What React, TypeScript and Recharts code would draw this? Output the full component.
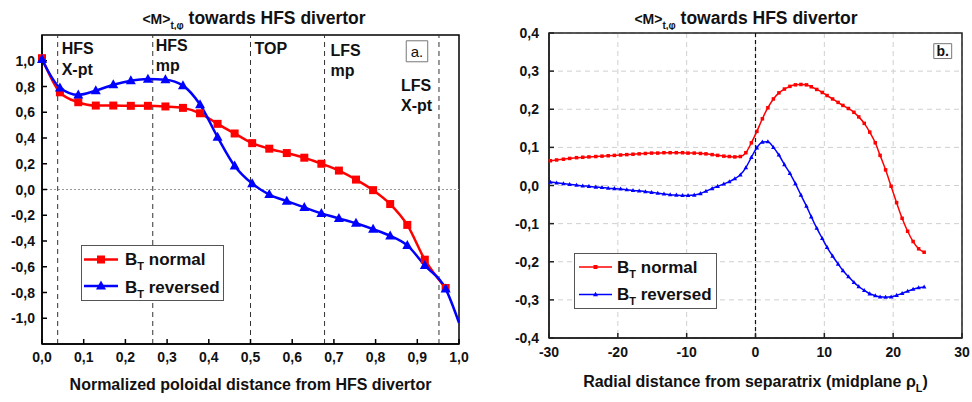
import React from 'react';
import { LineChart, Line, XAxis, YAxis, CartesianGrid, ReferenceLine, ReferenceArea, Legend } from 'recharts';

const FONT = 'Arial, "Liberation Sans", Helvetica, sans-serif';
const RED = '#ff0000';
const BLUE = '#0000ff';

// panel a. : normalized poloidal distance from HFS divertor
const polDist = [0, 0.043, 0.087, 0.129, 0.171, 0.213, 0.254, 0.296, 0.338, 0.379, 0.421, 0.462, 0.504,
  0.545, 0.587, 0.629, 0.67, 0.712, 0.753, 0.794, 0.835, 0.876, 0.918, 0.968, 1.0];
const polNormal = [1.02, 0.755, 0.678, 0.652, 0.652, 0.65, 0.65, 0.645, 0.634, 0.592, 0.51, 0.435, 0.36,
  0.317, 0.283, 0.247, 0.2, 0.147, 0.077, -0.005, -0.113, -0.275, -0.545, -0.765];
const polReversed = [1.01, 0.79, 0.735, 0.768, 0.814, 0.845, 0.858, 0.853, 0.807, 0.66, 0.407, 0.183, 0.046,
  -0.039, -0.09, -0.139, -0.185, -0.224, -0.262, -0.308, -0.36, -0.434, -0.59, -0.772, -1.035];
const polTicksX = [0, 0.1, 0.2, 0.3, 0.4, 0.5, 0.6, 0.7, 0.8, 0.9, 1.0];
const polTicksY = [-1.0, -0.8, -0.6, -0.4, -0.2, 0, 0.2, 0.4, 0.6, 0.8, 1.0];

// positions of X-points, midplanes and top
const regionX = [0.0376, 0.2656, 0.5, 0.6776, 0.952];
const regionNames = [['HFS', 'X-pt'], ['HFS', 'mp'], ['TOP'], ['LFS', 'mp'], ['LFS', 'X-pt']];

// panel b. : radial distance from separatrix
const rho = [-29.8, -28.9, -27.9, -27.0, -26.0, -25.1, -24.2, -23.2, -22.3, -21.4,
  -20.5, -19.6, -18.7, -17.8, -16.9, -16.0, -15.1, -14.2, -13.3, -12.4,
  -11.5, -10.6, -9.8, -8.9, -8.0, -7.2, -6.3, -5.5, -4.6, -3.8,
  -3.0, -2.2, -1.4, -0.6, 0.2, 1.0, 1.8, 2.6, 3.4, 4.2,
  5.0, 5.8, 6.6, 7.4, 8.1, 8.9, 9.7, 10.4, 11.2, 12.0,
  12.7, 13.5, 14.3, 15.0, 15.8, 16.6, 17.4, 18.1, 18.9, 19.7,
  20.5, 21.3, 22.1, 22.9, 23.7, 24.5];
const rhoNormal = [0.065, 0.067, 0.069, 0.071, 0.073, 0.074, 0.075, 0.076, 0.077, 0.078,
  0.079, 0.080, 0.081, 0.082, 0.083, 0.084, 0.085, 0.085, 0.086, 0.086,
  0.086, 0.086, 0.085, 0.085, 0.084, 0.083, 0.081, 0.079, 0.077, 0.076,
  0.075, 0.076, 0.086, 0.112, 0.142, 0.175, 0.204, 0.227, 0.243, 0.253,
  0.260, 0.264, 0.265, 0.264, 0.259, 0.252, 0.244, 0.236, 0.227, 0.218,
  0.210, 0.202, 0.192, 0.180, 0.163, 0.140, 0.112, 0.079, 0.041, -0.002,
  -0.045, -0.086, -0.120, -0.147, -0.166, -0.175];
const rhoReversed = [0.009, 0.007, 0.005, 0.003, 0.001, -0.001, -0.002, -0.004, -0.005, -0.007,
  -0.008, -0.009, -0.011, -0.013, -0.014, -0.016, -0.018, -0.020, -0.022, -0.024,
  -0.025, -0.026, -0.026, -0.025, -0.021, -0.015, -0.008, -0.002, 0.004, 0.010,
  0.018, 0.028, 0.047, 0.074, 0.099, 0.114, 0.115, 0.100, 0.080, 0.055,
  0.032, 0.005, -0.025, -0.054, -0.082, -0.112, -0.139, -0.162, -0.185, -0.206,
  -0.223, -0.239, -0.254, -0.265, -0.275, -0.284, -0.289, -0.292, -0.293, -0.292,
  -0.288, -0.283, -0.277, -0.272, -0.268, -0.266];
const rhoTicksX = [-30, -20, -10, 0, 10, 20, 30];
const rhoTicksY = [-0.4, -0.3, -0.2, -0.1, 0, 0.1, 0.2, 0.3, 0.4];

const polData = polDist.map((x, i) => ({ x, normal: polNormal[i], reversed: polReversed[i] }));
const rhoData = rho.map((x, i) => ({ x, normal: rhoNormal[i], reversed: rhoReversed[i] }));

const comma = (v: number) => v.toFixed(1).replace('.', ',');
const plain = (v: number) => String(v);

const Tick = (p: any) => {
  const { x, y, payload, textAnchor, verticalAnchor, fmt } = p;
  return (
    <text x={x} y={y} dy={verticalAnchor === 'start' ? '0.72em' : '0.36em'} textAnchor={textAnchor}
      fontFamily={FONT} fontSize={14} fontWeight="bold" fill="#111">
      {fmt(payload.value)}
    </text>
  );
};

const Square = (p: any) => {
  const { cx, cy, s, c, skip, payload } = p;
  if (cx == null || cy == null) return null;
  if (skip != null && payload && payload.x === skip) return null;
  return <rect x={cx - s / 2} y={cy - s / 2} width={s} height={s} fill={c} />;
};

const Triangle = (p: any) => {
  const { cx, cy, s, c, skip, payload } = p;
  if (cx == null || cy == null) return null;
  if (skip != null && payload && payload.x === skip) return null;
  const h = s * 0.9;
  return <polygon points={`${cx},${cy - h * 0.6} ${cx - s / 2},${cy + h * 0.4} ${cx + s / 2},${cy + h * 0.4}`} fill={c} />;
};

const RegionLabel = (p: any) => {
  const { viewBox, lines, dx, dys } = p;
  return (
    <text fontFamily={FONT} fontSize={16} fontWeight="bold" fill="#111">
      {lines.map((t: string, i: number) => (
        <tspan key={i} x={viewBox.x + dx} y={viewBox.y + dys[i]}>{t}</tspan>
      ))}
    </text>
  );
};
const regionDx = [4, 3, 4, 6, -38];
const regionDy = [[19, 40], [16, 36], [19], [21, 41], [56, 76]];

const AxisTitle = (p: any) => {
  const { viewBox, dy, text, sub, tail } = p;
  return (
    <text x={viewBox.x + viewBox.width / 2} y={viewBox.y + dy} textAnchor="middle"
      fontFamily={FONT} fontSize={16} fontWeight="bold" fill="#111">
      {text}
      {sub ? <tspan dy={5} fontSize={11}>{sub}</tspan> : null}
      {sub ? <tspan dy={-5}>{tail}</tspan> : null}
    </text>
  );
};

const Title = ({ cx }: { cx: number }) => (
  <text x={cx} y={24} textAnchor="middle" fontFamily={FONT} fontWeight="bold" fill="#111">
    <tspan fontSize={14}>{'<M>'}</tspan>
    <tspan fontSize={10} dy={5}>t,φ</tspan>
    <tspan fontSize={17.5} dy={-5}> towards HFS divertor</tspan>
  </text>
);

const LegendBox = (p: any) => {
  const { w, h, x0, x1, tx, rows, lw, sq, tri } = p;
  const mid = (x0 + x1) / 2;
  return (
    <svg width={w} height={h} style={{ display: 'block' }}>
      <rect x={0.5} y={0.5} width={w - 1} height={h - 1} fill="#fff" stroke="#555" strokeWidth={1} />
      {rows.map((r: any, i: number) => (
        <g key={i}>
          <line x1={x0} x2={x1} y1={r.ly} y2={r.ly} stroke={r.color} strokeWidth={lw} />
          {r.shape === 'square'
            ? <Square cx={mid} cy={r.ly} s={sq} c={r.color} />
            : <Triangle cx={mid} cy={r.ly} s={tri} c={r.color} />}
          <text x={tx} y={r.ty} fontFamily={FONT} fontSize={17} fontWeight="bold" fill="#111">
            B<tspan dy={5} fontSize={11}>T</tspan><tspan dy={-5}> {r.name}</tspan>
          </text>
        </g>
      ))}
    </svg>
  );
};

export default function App() {
  return (
    <div style={{ position: 'absolute', left: 0, top: 0, width: 972, height: 402, background: '#fff' }}>
      <svg width={972} height={30} style={{ position: 'absolute', left: 0, top: 0 }}>
        <Title cx={254} />
        <Title cx={746} />
      </svg>

      <div style={{ position: 'absolute', left: 0, top: 0 }}>
        <LineChart width={480} height={402} data={polData} margin={{ top: 35, right: 21, bottom: 8, left: 0 }}>
          <XAxis dataKey="x" type="number" domain={[0, 1]} ticks={polTicksX}
            height={50} tickSize={-5} tickMargin={13} tick={<Tick fmt={comma} />}
            axisLine={{ stroke: '#000', strokeWidth: 1.5 }} tickLine={{ stroke: '#000', strokeWidth: 1.5 }}
            label={<AxisTitle dy={46} text="Normalized poloidal distance from HFS divertor" />} />
          <YAxis type="number" domain={[-1.2, 1.2]} ticks={polTicksY}
            width={42} tickSize={-5} tickMargin={12} tick={<Tick fmt={comma} />}
            axisLine={{ stroke: '#000', strokeWidth: 1.5 }} tickLine={{ stroke: '#000', strokeWidth: 1.5 }} />
          <ReferenceArea x1={0} x2={1} y1={-1.2} y2={1.2} fill="none" stroke="#000" strokeWidth={1.5} />
          <ReferenceLine y={0} stroke="#999" strokeDasharray="2 2" strokeWidth={1} />
          {regionX.map((x, i) => (
            <ReferenceLine key={i} x={x} stroke="#333" strokeDasharray="5 4" strokeWidth={1}
              label={<RegionLabel lines={regionNames[i]} dx={regionDx[i]} dys={regionDy[i]} />} />
          ))}
          <ReferenceArea x1={0.8735} x2={0.925} y1={0.992} y2={1.155} fill="#fff" fillOpacity={1}
            stroke="#777" strokeWidth={1}
            label={{ value: 'a.', position: 'center', fontSize: 15, fill: '#111', fontFamily: FONT }} />
          <Line type="monotone" dataKey="normal" stroke={RED} strokeWidth={2.5}
            dot={<Square s={8} c={RED} />} activeDot={false} isAnimationActive={false} />
          <Line type="monotone" dataKey="reversed" stroke={BLUE} strokeWidth={2.5}
            dot={<Triangle s={10} c={BLUE} skip={1.0} />} activeDot={false} isAnimationActive={false} />
          <Legend layout="vertical" align="center" verticalAlign="middle"
            wrapperStyle={{ left: 81, top: 245, width: 143, height: 56 }}
            content={() => (
              <LegendBox w={143} h={56} x0={3} x1={37} tx={44} lw={2.5} sq={8} tri={10}
                rows={[
                  { name: 'normal', color: RED, shape: 'square', ly: 14.5, ty: 20 },
                  { name: 'reversed', color: BLUE, shape: 'tri', ly: 41, ty: 47.5 },
                ]} />
            )} />
        </LineChart>
      </div>

      <div style={{ position: 'absolute', left: 480, top: 0 }}>
        <LineChart width={492} height={402} data={rhoData} margin={{ top: 33, right: 10, bottom: 8, left: 0 }}>
          <CartesianGrid stroke="#cfcfcf" strokeDasharray="5 4" />
          <XAxis dataKey="x" type="number" domain={[-30, 30]} ticks={rhoTicksX}
            height={56} tickSize={-5} tickMargin={14} tick={<Tick fmt={plain} />}
            axisLine={{ stroke: '#222', strokeWidth: 1.5 }} tickLine={{ stroke: '#222', strokeWidth: 1.5 }}
            label={<AxisTitle dy={48.5} text="Radial distance from separatrix (midplane ρ" sub="L" tail=")" />} />
          <YAxis type="number" domain={[-0.4, 0.4]} ticks={rhoTicksY}
            width={69} tickSize={-5} tickMargin={15} tick={<Tick fmt={comma} />}
            axisLine={{ stroke: '#222', strokeWidth: 1.5 }} tickLine={{ stroke: '#222', strokeWidth: 1.5 }} />
          <ReferenceArea x1={-30} x2={30} y1={-0.4} y2={0.4} fill="none" stroke="#222" strokeWidth={1.5} />
          <ReferenceLine x={0} stroke="#111" strokeDasharray="4 3" strokeWidth={1.2} />
          <ReferenceArea x1={25.9} x2={28.5} y1={0.333} y2={0.372} fill="#fff" fillOpacity={1}
            stroke="#777" strokeWidth={1}
            label={{ value: 'b.', position: 'center', fontSize: 14, fontWeight: 'bold', fill: '#111', fontFamily: FONT }} />
          <Line type="monotone" dataKey="normal" stroke={RED} strokeWidth={1.5}
            dot={<Square s={3.5} c={RED} />} activeDot={false} isAnimationActive={false} />
          <Line type="monotone" dataKey="reversed" stroke={BLUE} strokeWidth={1.5}
            dot={<Triangle s={4.5} c={BLUE} />} activeDot={false} isAnimationActive={false} />
          <Legend layout="vertical" align="center" verticalAlign="middle"
            wrapperStyle={{ left: 94, top: 253, width: 143, height: 56 }}
            content={() => (
              <LegendBox w={143} h={56} x0={5} x1={38} tx={43} lw={1.5} sq={4} tri={5}
                rows={[
                  { name: 'normal', color: RED, shape: 'square', ly: 14, ty: 19.5 },
                  { name: 'reversed', color: BLUE, shape: 'tri', ly: 41.5, ty: 47 },
                ]} />
            )} />
        </LineChart>
      </div>
    </div>
  );
}
